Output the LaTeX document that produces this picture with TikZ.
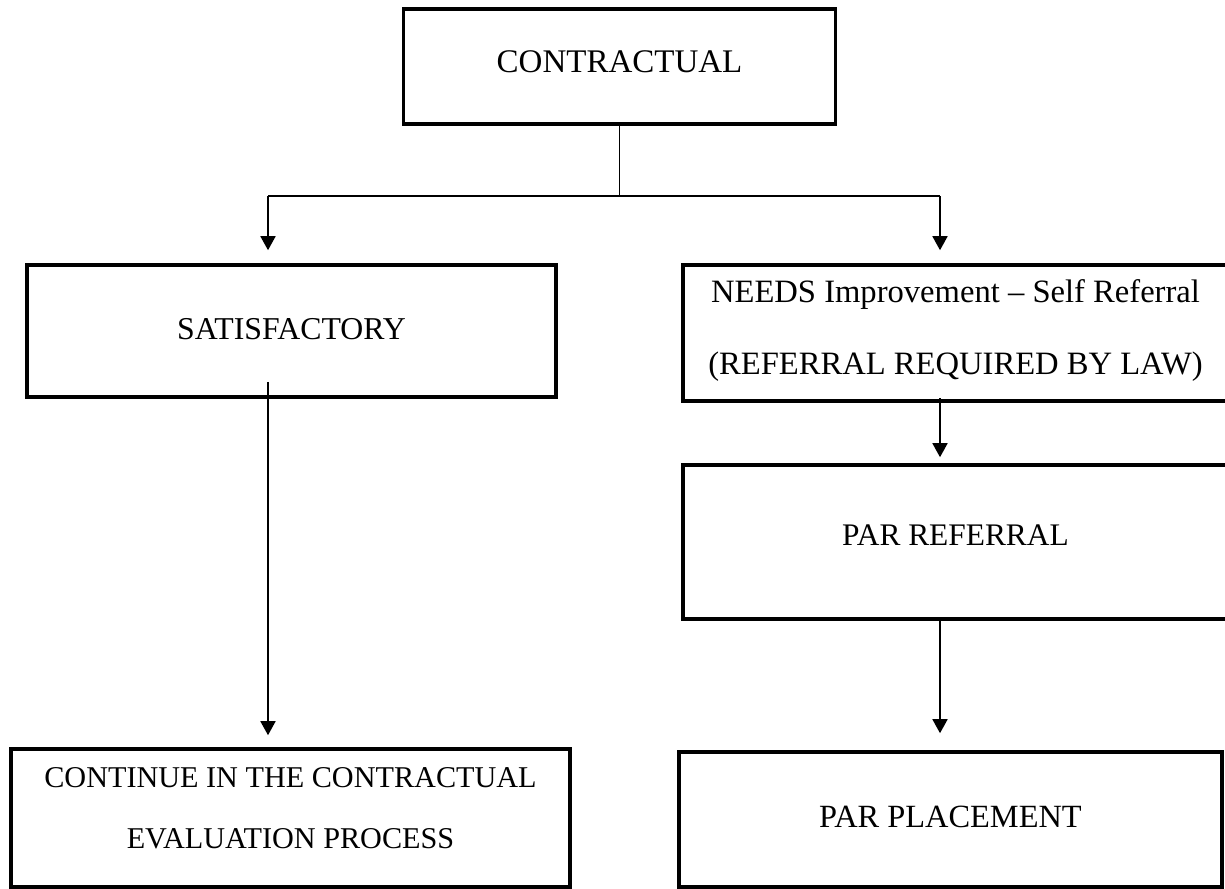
\documentclass[tikz,border=0pt]{standalone}
\usepackage{fontspec}
\setmainfont{Liberation Serif}
\usetikzlibrary{arrows.meta}
\begin{document}
\begin{tikzpicture}[x=0.5pt,y=-0.5pt,
  box/.style={draw, line width=1.8pt, rectangle, inner sep=0pt, align=center},
  conn/.style={line width=0.85pt},
  arr/.style={conn, -{Triangle[width=7.5pt,length=7pt]}}]
\useasboundingbox[fill=white] (0,0) rectangle (1225,888);

\node[box, minimum width=216pt, minimum height=57.5pt,
      font=\fontsize{16.5}{20}\selectfont, text height=6.5pt, text depth=0pt]
      (top) at (619.5,66.5) {CONTRACTUAL};
\node[box, minimum width=264.5pt, minimum height=66pt,
      font=\fontsize{15.9}{19}\selectfont, text height=8pt, text depth=0pt]
      (sat) at (291.5,331) {SATISFACTORY};
\node[box, minimum width=272.5pt, minimum height=68pt,
      font=\fontsize{16.3}{36}\selectfont, text height=41pt, text depth=0pt]
      (needs) at (955.5,333) {NEEDS Improvement – Self Referral\\(REFERRAL REQUIRED BY LAW)};
\node[box, minimum width=272.5pt, minimum height=77pt,
      font=\fontsize{15.7}{19}\selectfont, text height=3pt, text depth=0pt]
      (parref) at (955.5,542) {PAR REFERRAL};
\node[box, minimum width=271.5pt, minimum height=67.5pt,
      font=\fontsize{16.2}{19}\selectfont, text height=7.5pt, text depth=0pt]
      (parpl) at (950.5,819.5) {PAR PLACEMENT};
\node[box, minimum width=279.5pt, minimum height=69pt,
      font=\fontsize{15.1}{30.5}\selectfont, text height=30pt, text depth=0pt]
      (cont) at (290.5,818) {CONTINUE IN THE CONTRACTUAL\\EVALUATION PROCESS};

\coordinate (bj) at (619.5,196);
\coordinate (bl) at (268,196);
\coordinate (br) at (940,196);

\draw[conn] (top.south) -- (bj);
\draw[conn] (bl) -- (br);
\draw[arr] (bl) -- ([yshift=6.5pt]bl |- sat.north);
\draw[arr] (br) -- ([yshift=6.5pt]br |- needs.north);
\draw[arr] ([yshift=8.5pt]bl |- sat.south) -- ([yshift=6pt]bl |- cont.north);
\draw[arr] ([yshift=2.5pt]br |- needs.south) -- ([yshift=3pt]br |- parref.north);
\draw[arr] (br |- parref.south) -- ([yshift=8.5pt]br |- parpl.north);
\end{tikzpicture}
\end{document}
